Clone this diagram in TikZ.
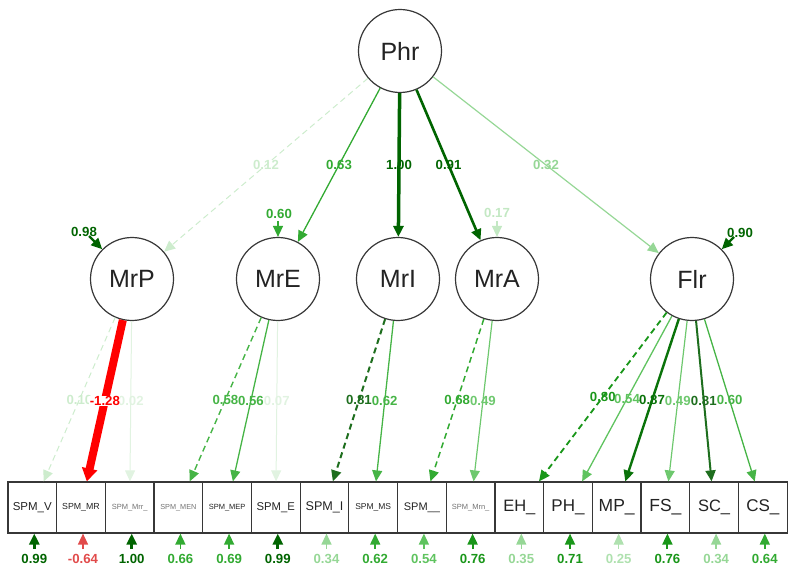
\documentclass[tikz,border=0pt]{standalone}
\usepackage{fontspec}
\setmainfont{Liberation Sans}
\usetikzlibrary{arrows.meta}
\definecolor{gA}{RGB}{0,100,0}
\definecolor{gB}{RGB}{10,115,10}
\definecolor{gC}{RGB}{30,110,30}
\definecolor{gD}{RGB}{25,150,25}
\definecolor{gE}{RGB}{50,170,50}
\definecolor{gF}{RGB}{70,180,70}
\definecolor{gG}{RGB}{95,195,95}
\definecolor{gH}{RGB}{110,200,110}
\definecolor{gI}{RGB}{150,215,150}
\definecolor{gJ}{RGB}{175,225,175}
\definecolor{gK}{RGB}{195,232,195}
\definecolor{gL}{RGB}{205,236,205}
\definecolor{gM}{RGB}{225,243,225}
\definecolor{rA}{RGB}{255,0,0}
\definecolor{rB}{RGB}{225,75,75}
\definecolor{bord}{RGB}{55,55,55}
\definecolor{txt}{RGB}{35,35,35}
\begin{document}
\begin{tikzpicture}[x=1pt,y=-1pt,
  lat/.style={circle,draw=bord,line width=1.2pt,minimum size=83pt,inner sep=0pt,text=txt,font=\fontsize{25}{25}\selectfont},
  man/.style={rectangle,draw=bord,line width=1.2pt,minimum width=48.7pt,minimum height=51pt,inner sep=0pt,text=txt},
  lab/.style={font=\bfseries\fontsize{13.2}{14}\selectfont,inner sep=0pt},
  tip/.style={-{Triangle[length=11pt,width=10pt]}},
  bigtip/.style={-{Triangle[length=13pt,width=15pt]}},
  dsh/.style={dash pattern=on 6pt off 4pt},
]
\useasboundingbox (0,0) rectangle (789,569);

% latent variables
\node[lat] (Phr) at (400,51) {Phr};
\node[lat] (MrP) at (132,279) {MrP};
\node[lat] (MrE) at (278,279) {MrE};
\node[lat] (MrI) at (398,279) {MrI};
\node[lat] (MrA) at (497,279) {MrA};
\node[lat] (Flr) at (692,279) {Flr};

% manifest variables
\node[man,font=\fontsize{11.5}{12}\selectfont] (b0) at (32.3,507.5) {SPM\_V};
\node[man,font=\fontsize{8.8}{9}\selectfont] (b1) at (81.0,507.5) {SPM\_MR};
\node[man,font=\fontsize{7.5}{8}\selectfont,text=black!55] (b2) at (129.7,507.5) {SPM\_Mrr\_};
\node[man,font=\fontsize{7.3}{8}\selectfont,text=black!55] (b3) at (178.4,507.5) {SPM\_MEN};
\node[man,font=\fontsize{7.5}{8}\selectfont] (b4) at (227.1,507.5) {SPM\_MEP};
\node[man,font=\fontsize{11.3}{12}\selectfont] (b5) at (275.8,507.5) {SPM\_E};
\node[man,font=\fontsize{12.6}{13}\selectfont] (b6) at (324.5,507.5) {SPM\_I};
\node[man,font=\fontsize{8.5}{9}\selectfont] (b7) at (373.2,507.5) {SPM\_MS};
\node[man,font=\fontsize{11}{12}\selectfont] (b8) at (421.9,507.5) {SPM\_\_};
\node[man,font=\fontsize{7.5}{8}\selectfont,text=black!55] (b9) at (470.6,507.5) {SPM\_Mrn\_};
\node[man,font=\fontsize{16.5}{17}\selectfont] (b10) at (519.3,507.5) {EH\_};
\node[man,font=\fontsize{17}{17}\selectfont] (b11) at (568.0,507.5) {PH\_};
\node[man,font=\fontsize{17.5}{18}\selectfont] (b12) at (616.7,507.5) {MP\_};
\node[man,font=\fontsize{17.5}{18}\selectfont] (b13) at (665.4,507.5) {FS\_};
\node[man,font=\fontsize{16.5}{17}\selectfont] (b14) at (714.1,507.5) {SC\_};
\node[man,font=\fontsize{17}{17}\selectfont] (b15) at (762.8,507.5) {CS\_};

% structural paths
\draw[tip,dsh,color=gL,line width=1pt] (Phr) -- node[lab] (lp1) {0.12} (MrP);
\draw[tip,color=gE,line width=1.3pt] (Phr) -- node[lab] (lp2) {0.63} (MrE);
\draw[tip,color=gA,line width=3.5pt] (Phr) -- node[lab] (lp3) {1.00} (MrI);
\draw[tip,color=gA,line width=2.6pt] (Phr) -- node[lab] (lp4) {0.91} (MrA);
\draw[tip,color=gI,line width=1.2pt] (Phr) -- node[lab] (lp5) {0.32} (Flr);

% loadings
\draw[tip,dsh,color=gL,line width=1pt] (MrP) -- node[lab] (l0) {0.10} (b0);
\draw[tip,color=gM,line width=1pt] (MrP) -- node[lab] (l2) {0.02} (b2);
\draw[bigtip,color=rA,line width=8pt] (MrP) -- node[lab,fill=white,inner sep=0.5pt] (l1) {-1.28} (b1);
\draw[tip,dsh,color=gF,line width=1.4pt] (MrE) -- node[lab] (l3) {0.58} (b3);
\draw[tip,color=gF,line width=1.3pt] (MrE) -- node[lab] (l4) {0.56} (b4);
\draw[tip,color=gM,line width=1pt] (MrE) -- node[lab] (l5) {0.07} (b5);
\draw[tip,dsh,color=gC,line width=2pt] (MrI) -- node[lab] (l6) {0.81} (b6);
\draw[tip,color=gF,line width=1.3pt] (MrI) -- node[lab] (l7) {0.62} (b7);
\draw[tip,dsh,color=gE,line width=1.5pt] (MrA) -- node[lab] (l8) {0.68} (b8);
\draw[tip,color=gH,line width=1.2pt] (MrA) -- node[lab] (l9) {0.49} (b9);
\draw[tip,dsh,color=gD,line width=1.8pt] (Flr) -- node[lab] (l10) {0.80} (b10);
\draw[tip,color=gG,line width=1.3pt] (Flr) -- node[lab] (l11) {0.54} (b11);
\draw[tip,color=gB,line width=2.4pt] (Flr) -- node[lab] (l12) {0.87} (b12);
\draw[tip,color=gH,line width=1.2pt] (Flr) -- node[lab] (l13) {0.49} (b13);
\draw[tip,color=gC,line width=2pt] (Flr) -- node[lab] (l14) {0.81} (b14);
\draw[tip,color=gF,line width=1.3pt] (Flr) -- node[lab] (l15) {0.60} (b15);

% latent residuals
\coordinate (rsP) at (89,236);
\node[lab,text=gA] (rlP) at (84,232) {0.98};
\draw[tip,color=gA,line width=2.2pt] (rsP) -- (MrP);
\coordinate (rsE) at (278,221);
\node[lab,text=gE] (rlE) at (279,214) {0.60};
\draw[tip,color=gE,line width=1.4pt] (rsE) -- (MrE);
\coordinate (rsA) at (497,221);
\node[lab,text=gK] (rlA) at (497,213) {0.17};
\draw[tip,color=gK,line width=1.2pt] (rsA) -- (MrA);
\coordinate (rsF) at (734,237);
\node[lab,text=gA] (rlF) at (740,233) {0.90};
\draw[tip,color=gA,line width=2.2pt] (rsF) -- (Flr);

% manifest residuals
\foreach \i/\x/\v/\c/\w in {
  0/34.3/0.99/gA/3pt, 1/83.0/-0.64/rB/1.5pt, 2/131.7/1.00/gA/3pt, 3/180.4/0.66/gE/1.5pt,
  4/229.1/0.69/gE/1.5pt, 5/277.8/0.99/gA/3pt, 6/326.5/0.34/gI/1.3pt, 7/375.2/0.62/gE/1.5pt,
  8/423.9/0.54/gG/1.4pt, 9/472.6/0.76/gD/2pt, 10/521.3/0.35/gI/1.3pt, 11/570.0/0.71/gD/1.8pt,
  12/618.7/0.25/gJ/1.2pt, 13/667.4/0.76/gD/2pt, 14/716.1/0.34/gI/1.3pt, 15/764.8/0.64/gE/1.5pt}{
  \coordinate (s\i) at (\x,549);
  \draw[tip,color=\c,line width=\w] (s\i) -- (s\i |- b\i.south);
  \node[lab,text=\c] (rl\i) at (\x,559) {\v};
}
\end{tikzpicture}
\end{document}
